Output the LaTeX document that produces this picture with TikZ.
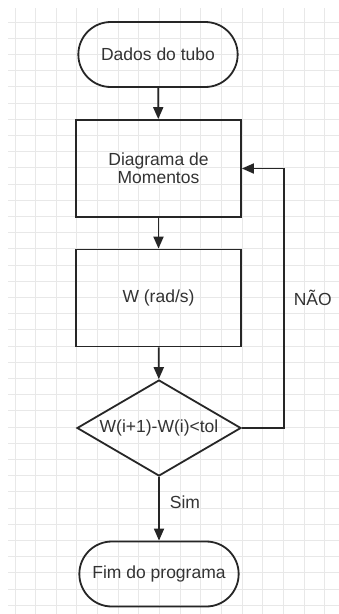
\documentclass[tikz,border=0pt]{standalone}
\usepackage{fontspec}
\setmainfont{Liberation Sans}
\usetikzlibrary{arrows.meta, shapes.geometric, shapes.misc}

\begin{document}
\begin{tikzpicture}[x=1pt, y=-1pt, font=\fontsize{17.5}{18}\selectfont,
  gridline/.style={draw=gray!18, line width=1pt},
  terminal/.style={draw=black!85, line width=1.8pt, rounded rectangle, minimum width=166pt, minimum height=65pt, text=black!80},
  process/.style={draw=black!85, line width=1.8pt, rectangle, minimum width=165pt, minimum height=97pt, align=center, text=black!80},
  decision/.style={draw=black!85, line width=1.8pt, diamond, aspect=1.7, inner sep=0pt, minimum width=164pt, minimum height=96pt, text=black!80},
  flow/.style={draw=black!85, line width=1.8pt, -{Triangle[length=12pt, width=10pt]}},
  flowlabel/.style={text=black!80, inner sep=2pt}]
  \useasboundingbox (0,0) rectangle (339,614);
  \fill[white] (0,0) rectangle (339,614);
  \foreach \k in {0,...,15} \draw[gridline] ({15+20.65*\k},8) -- ({15+20.65*\k},614);
  \foreach \k in {0,...,36} \draw[gridline] (8,{22+16.2*\k}) -- (339,{22+16.2*\k});

  \node[terminal] (dados) at (158,54.5) {Dados do tubo};
  \node[process] (diagrama) at (158.5,168.5) {Diagrama de\\Momentos};
  \node[process] (omega) at (158.5,298) {W (rad/s)};
  \node[decision] (teste) at (159,428) {W(i+1)-W(i)<tol};
  \node[terminal] (fim) at (159,574) {Fim do programa};

  \draw[flow] (dados) -- (diagrama);
  \draw[flow] (diagrama) -- (omega);
  \draw[flow] (omega) -- (teste);
  \draw[flow] (teste) -- node[flowlabel, pos=0.4, right=8pt] {Sim} (fim);
  \draw[flow] (teste.east) -- ++(42,0) |- node[flowlabel, pos=0.25, right=7pt] {NÃO} (diagrama.east);
\end{tikzpicture}
\end{document}
